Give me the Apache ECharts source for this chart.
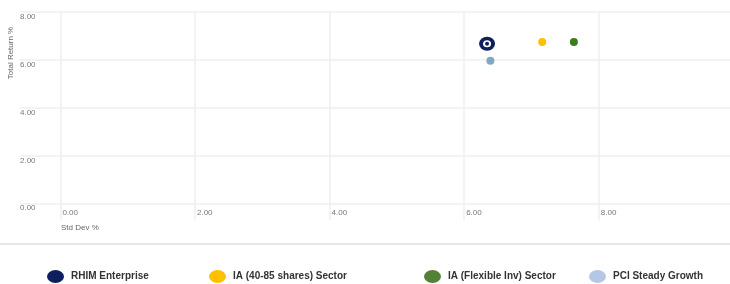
<!DOCTYPE html>
<html>
<head>
<meta charset="utf-8">
<script src="https://cdn.jsdelivr.net/npm/echarts@6/dist/echarts.min.js"></script>
<style>
html, body { margin: 0; padding: 0; background: #fff; }
#chart { width: 730px; height: 284px; }
</style>
</head>
<body>
<div id="chart"></div>
<script>
// series names and values: [std dev, total return]
const names = ['RHIM Enterprise', 'IA (40-85 shares) Sector', 'IA (Flexible Inv) Sector', 'PCI Steady Growth'];
const rhim = [[6.34, 6.67]];
const ia4085 = [[7.16, 6.75]];
const iaFlex = [[7.63, 6.75]];
const pci = [[6.39, 5.96]];
const xTicks = [0, 2, 4, 6, 8];
const yTicks = [0, 2, 4, 6, 8];

const chart = echarts.init(document.getElementById('chart'));

const gridLine = { show: true, lineStyle: { color: '#efefef', width: 1.5 } };
const tickFont = { fontFamily: 'Liberation Sans', fontSize: 8, color: '#777' };

// one legend per item so each sits where it does in the picture
const legendLeft = [42, 204, 419, 584];
const legendColor = ['#0d1f5c', '#ffc000', '#538135', '#b4c7e7'];
const legends = names.map(function (n, i) {
	return {
		left: legendLeft[i],
		top: 265,
		itemWidth: 17,
		itemHeight: 13,
		itemGap: 0,
		icon: 'path://M0,6.5A8.5,6.5 0 1,0 17,6.5A8.5,6.5 0 1,0 0,6.5Z',
		selectedMode: false,
		textStyle: { fontFamily: 'Liberation Sans', fontSize: 10, fontWeight: 'bold', color: '#333', padding: [0, 0, 0, 2] },
		data: [{ name: n, itemStyle: { color: legendColor[i] } }]
	};
});

chart.setOption({
	animation: false,
	grid: { left: 20, top: 12, right: 0, bottom: 64 },
	xAxis: {
		type: 'value',
		min: -0.6,
		max: 9.95,
		axisLine: { show: false },
		axisTick: { show: false, customValues: xTicks },
		axisLabel: Object.assign({
			inside: true,
			customValues: xTicks,
			align: 'left',
			margin: 3,
			padding: [0, 0, 0, 2],
			formatter: function (v) { return v.toFixed(2); }
		}, tickFont),
		splitLine: gridLine
	},
	yAxis: {
		type: 'value',
		min: -0.7,
		max: 8,
		axisLine: { show: false },
		axisTick: { show: false, customValues: yTicks },
		axisLabel: Object.assign({
			inside: true,
			customValues: yTicks,
			align: 'left',
			verticalAlign: 'top',
			margin: 0,
			padding: [1, 0, 0, 0],
			formatter: function (v) { return v.toFixed(2); }
		}, tickFont),
		splitLine: gridLine
	},
	legend: legends,
	graphic: [
		{ type: 'text', left: 61, top: 224, style: { text: 'Std Dev %', fontFamily: 'Liberation Sans', fontSize: 8, fill: '#666' } },
		{ type: 'text', x: 11, y: 53, rotation: Math.PI / 2, style: { text: 'Total Return %', fontFamily: 'Liberation Sans', fontSize: 8, fill: '#666', align: 'center', verticalAlign: 'middle' } },
		{ type: 'rect', shape: { x: 0, y: 243, width: 730, height: 2 }, style: { fill: '#e8e8e8' } }
	],
	series: [
		{ name: names[0], type: 'scatter', symbolSize: [16, 14], itemStyle: { color: '#0d1f5c', opacity: 1 }, data: rhim, z: 3 },
		{ name: 'rhim-ring', type: 'scatter', symbolSize: [8, 7], itemStyle: { color: '#fff', opacity: 1 }, data: rhim, z: 4 },
		{ name: 'rhim-dot', type: 'scatter', symbolSize: 4, itemStyle: { color: '#0d1f5c', opacity: 1 }, data: rhim, z: 5 },
		{ name: names[1], type: 'scatter', symbolSize: 8, itemStyle: { color: '#ffc000', opacity: 1 }, data: ia4085 },
		{ name: names[2], type: 'scatter', symbolSize: 8, itemStyle: { color: '#3f7a1f', opacity: 1 }, data: iaFlex },
		{ name: names[3], type: 'scatter', symbolSize: 8, itemStyle: { color: '#7fa8c2', opacity: 1 }, data: pci }
	]
});
</script>
</body>
</html>
